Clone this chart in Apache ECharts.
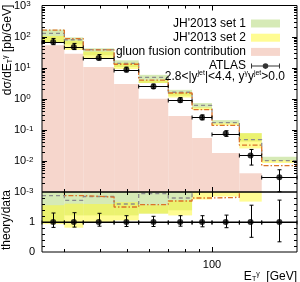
<!DOCTYPE html>
<html><head><meta charset="utf-8">
<script src="https://cdn.jsdelivr.net/npm/echarts@6/dist/echarts.min.js"></script>
<style>html,body{margin:0;padding:0;background:#fff}#c{width:300px;height:282px}</style>
</head><body><div id="c"></div>
<script>
// ---- data ----
const binEdges = [25, 30, 35, 45, 55, 70, 85, 100, 125, 150, 200];
const atlasValues = [67, 46, 20.5, 8.6, 2.5, 0.9, 0.25, 0.076, 0.015, 0.003];
const atlasErrUpRatio = [1.30, 1.31, 1.29, 1.21, 1.19, 1.21, 1.21, 1.23, 1.56, 1.73];
const atlasErrDownRatio = [0.82, 0.83, 0.86, 0.85, 0.85, 0.86, 0.84, 0.81, 0.49, 0.34];
const gluonFusion = [53, 28, 10.5, 3.0, 1.0, 0.28, 0.055, 0.018, 0.004, 0.0007];
// theory / data (lower panel)
const set1RatioLow  = [1.00, 1.22, 1.22, 1.22, 1.28, 1.39, 2.00, 2.10, 2.80, 3.35];
const set1RatioHigh = [2.50, 2.05, 2.05, 2.00, 2.35, 2.15, 2.90, 2.70, 5.20, 4.50];
const set2RatioLow  = [0.93, 0.81, 1.00, 1.05, 1.28, 1.22, 1.75, 1.85, 1.68, 2.85];
const set2RatioHigh = [1.56, 1.61, 1.60, 1.66, 1.56, 1.72, 2.10, 2.15, 5.20, 3.50];
const set1RatioCentral = [1.88, 1.72, 1.85, 1.60, 1.95, 1.80, 2.44, 2.25, 3.25, 3.40];
const set2RatioCentral = [2.40, 1.88, 1.83, 1.50, 1.58, 1.70, 1.80, 1.82, 2.15, 2.35];
// axis ticks
const yTopMajor = [1e-2, 1e-1, 1, 10, 100];
const yTopDecades = [-3, -2, -1, 0, 1, 2];
const yRatioMajor = [1];
const yRatioMinor = [0.2, 0.4, 0.6, 0.8, 1.2, 1.4, 1.6, 1.8];
const xMajor = [100];
const xMinor = [30, 40, 50, 60, 70, 80, 90];
const xTickLabels = [100];
const yRatioLabels = [0, 1];

const FONT = 'Liberation Sans, Arial, sans-serif';
const GREEN = '#d6eab6';
const YELLOW = 'rgba(255,250,40,0.5)';
const PINK = '#f6d6cc';
const GRAY = '#8c8c8c';
const ORANGE = '#dc7228';

const centers = binEdges.slice(0, -1).map((e, i) => Math.sqrt(e * binEdges[i + 1]));
const times = (arr) => arr.map((r, i) => r * atlasValues[i]);

function rectSeries(name, g, lows, highs, color, z) {
  return {
    type: 'custom', name, xAxisIndex: g, yAxisIndex: g, z, silent: true,
    itemStyle: { color },
    data: highs.map((h, i) => [binEdges[i], binEdges[i + 1], lows ? lows[i] : null, h]),
    renderItem(params, api) {
      const cs = params.coordSys;
      const a = api.coord([api.value(0), api.value(3)]);
      const b = api.coord([api.value(1), lows ? api.value(2) : 1]);
      let y2 = lows ? b[1] : cs.y + cs.height;
      let y1 = Math.max(a[1], cs.y);
      y2 = Math.min(y2, cs.y + cs.height);
      if (!(y2 > y1)) return null;
      return { type: 'rect', shape: { x: a[0], y: y1, width: b[0] - a[0], height: y2 - y1 }, style: { fill: color } };
    }
  };
}
function stepSeries(name, g, vals, color, dash, z) {
  const pts = vals.map((v, i) => [binEdges[i], v]);
  pts.push([binEdges[binEdges.length - 1], vals[vals.length - 1]]);
  return {
    type: 'line', name, xAxisIndex: g, yAxisIndex: g, z, step: 'end', symbol: 'none', silent: true,
    clip: true, data: pts, lineStyle: { color, width: 1.3, type: dash }
  };
}
function errSeries(g, vals, lo, hi, z) {
  return {
    type: 'custom', name: 'err' + g, xAxisIndex: g, yAxisIndex: g, z, silent: true,
    data: vals.map((v, i) => [centers[i], v, binEdges[i], binEdges[i + 1], lo[i], hi[i]]),
    renderItem(params, api) {
      const c = api.coord([api.value(0), api.value(1)]);
      const l = api.coord([api.value(2), api.value(1)]);
      const r = api.coord([api.value(3), api.value(1)]);
      const t = api.coord([api.value(0), api.value(5)]);
      const b = api.coord([api.value(0), api.value(4)]);
      const st = { stroke: '#000', lineWidth: 1 };
      const xr = Math.round(c[0]) + 0.5, yr = Math.round(c[1]) + 0.5;
      const ln = (x1, y1, x2, y2) => ({ type: 'line', shape: { x1, y1, x2, y2 }, style: st });
      return { type: 'group', children: [
        ln(l[0], yr, r[0], yr), ln(l[0], yr - 2, l[0], yr + 2), ln(r[0], yr - 2, r[0], yr + 2),
        ln(xr, t[1], xr, b[1]), ln(xr - 2, t[1], xr + 2, t[1]), ln(xr - 2, b[1], xr + 2, b[1])
      ] };
    }
  };
}
function tickSeries(g, yRef, yMaj, yMin) {
  const data = [];
  xMajor.forEach(v => data.push([v, yRef, 0, 5]));
  xMinor.forEach(v => data.push([v, yRef, 0, 3]));
  yMaj.forEach(v => data.push([100, v, 1, 5]));
  yMin.forEach(v => data.push([100, v, 1, 3]));
  return {
    type: 'custom', name: 'ticks' + g, xAxisIndex: g, yAxisIndex: g, z: 20, silent: true, data,
    renderItem(params, api) {
      const cs = params.coordSys;
      const p = api.coord([api.value(0), api.value(1)]);
      const kind = api.value(2), len = api.value(3);
      const st = { stroke: '#000', lineWidth: 1 };
      if (kind === 0) {
        const x = Math.round(p[0]) + 0.5, yb = cs.y + cs.height, yt = cs.y;
        return { type: 'group', children: [
          { type: 'line', shape: { x1: x, y1: yb, x2: x, y2: yb - len }, style: st },
          { type: 'line', shape: { x1: x, y1: yt, x2: x, y2: yt + len }, style: st }] };
      }
      const y = Math.round(p[1]) + 0.5, xl = cs.x, xr = cs.x + cs.width;
      return { type: 'group', children: [
        { type: 'line', shape: { x1: xl, y1: y, x2: xl + len, y2: y }, style: st },
        { type: 'line', shape: { x1: xr, y1: y, x2: xr - len, y2: y }, style: st }] };
    }
  };
}
const yTopMinor = [];
yTopDecades.forEach(e => { for (let k = 2; k <= 9; k++) yTopMinor.push(k * Math.pow(10, e)); });

const chart = echarts.init(document.getElementById('c'), null, { renderer: 'canvas' });
const ones = atlasValues.map(() => 1);
chart.setOption({
  animation: false,
  textStyle: { fontFamily: FONT },
  grid: [
    { left: 42, right: 3, top: 5, height: 187, show: true, borderColor: '#000', borderWidth: 1, z: 30, backgroundColor: 'transparent' },
    { left: 42, right: 3, top: 192, height: 60, show: true, borderColor: '#000', borderWidth: 1, z: 30, backgroundColor: 'transparent' }
  ],
  xAxis: [
    { gridIndex: 0, type: 'log', logBase: 10, min: 25, max: 200, axisLine: { show: false }, axisTick: { show: false }, axisLabel: { show: false }, splitLine: { show: false } },
    { gridIndex: 1, type: 'log', logBase: 10, min: 25, max: 200, axisLine: { show: false }, axisTick: { show: false }, splitLine: { show: false },
      axisLabel: { margin: 7, fontSize: 11, color: '#000', fontFamily: FONT, showMinLabel: true, showMaxLabel: true,
        formatter: v => xTickLabels.some(t => Math.abs(t - v) < 1e-6) ? String(Math.round(v)) : '' } }
  ],
  yAxis: [
    { gridIndex: 0, type: 'log', logBase: 10, min: 1e-3, max: 1e3, axisLine: { show: false }, axisTick: { show: false }, splitLine: { show: false },
      axisLabel: { align: 'left', margin: 28, color: '#000', fontFamily: FONT,
        formatter: v => { const e = Math.round(Math.log10(v)); return '{b|10}{s|' + e + '}'; },
        rich: { b: { fontSize: 11, fontFamily: FONT, color: '#000' }, s: { fontSize: 8, fontFamily: FONT, color: '#000', verticalAlign: 'top' } } } },
    { gridIndex: 1, type: 'value', min: 0, max: 2, interval: 1, axisLine: { show: false }, axisTick: { show: false }, splitLine: { show: false },
      axisLabel: { margin: 7, fontSize: 11, color: '#000', fontFamily: FONT,
        formatter: v => yRatioLabels.includes(v) ? String(v) : '' } }
  ],
  legend: {
    orient: 'vertical', right: 15, top: 12, align: 'right', itemWidth: 29, itemHeight: 8, itemGap: 1.2,
    selectedMode: false, textStyle: { fontSize: 12, lineHeight: 13, color: '#000', fontFamily: FONT },
    data: [
      { name: "JH'2013 set 1", icon: 'rect' },
      { name: "JH'2013 set 2", icon: 'rect' },
      { name: 'gluon fusion contribution', icon: 'rect' },
      { name: 'ATLAS', icon: 'path://M0,0h0.01v0.01h-0.01z M0,8h0.01v0.01h-0.01z M0,3.5h29v1h-29z M0,1.5h1v5h-1z M28,1.5h1v5h-1z M14.5,1.2a2.8,2.8 0 1,1 0,5.6a2.8,2.8 0 1,1 0,-5.6z' }
    ]
  },
  title: {
    text: '2.8<|y{s|jet}|<4.4, y{s|γ}y{s|jet}>0.0', right: 15, top: 70, padding: 0,
    textStyle: { fontSize: 12, fontWeight: 'normal', color: '#000', fontFamily: FONT, lineHeight: 13,
      rich: { s: { fontSize: 7, fontFamily: FONT, color: '#000', verticalAlign: 'top' } } }
  },
  graphic: [
    { type: 'text', x: 8, y: 50, rotation: Math.PI / 2, style: {
      text: 'dσ/dE{sub|T}{sup|γ} [pb/GeV]', fontSize: 12, fontFamily: FONT, fill: '#000', align: 'center', verticalAlign: 'middle',
      rich: { sub: { fontSize: 7, fontFamily: FONT, verticalAlign: 'bottom' }, sup: { fontSize: 7, fontFamily: FONT, verticalAlign: 'top' } } } },
    { type: 'text', x: 7, y: 220, rotation: Math.PI / 2, style: {
      text: 'theory/data', fontSize: 12, fontFamily: FONT, fill: '#000', align: 'center', verticalAlign: 'middle' } },
    { type: 'text', x: 297, y: 277, style: {
      text: 'E{sub|T}{sup|γ}  [GeV]', fontSize: 12, fontFamily: FONT, fill: '#000', align: 'right', verticalAlign: 'middle',
      rich: { sub: { fontSize: 7, fontFamily: FONT, verticalAlign: 'bottom' }, sup: { fontSize: 7, fontFamily: FONT, verticalAlign: 'top' } } } }
  ],
  series: [
    rectSeries('gluon fusion contribution', 0, null, gluonFusion, PINK, 1),
    rectSeries("JH'2013 set 1", 0, times(set1RatioLow), times(set1RatioHigh), GREEN, 2),
    rectSeries("JH'2013 set 2", 0, times(set2RatioLow), times(set2RatioHigh), YELLOW, 3),
    stepSeries('set1 central', 0, times(set1RatioCentral), GRAY, [4, 3], 4),
    stepSeries('set2 central', 0, times(set2RatioCentral), ORANGE, [5, 2, 1.5, 2], 5),
    errSeries(0, atlasValues, times(atlasErrDownRatio), times(atlasErrUpRatio), 6),
    { type: 'scatter', name: 'ATLAS', xAxisIndex: 0, yAxisIndex: 0, z: 7, symbol: 'circle', symbolSize: 6, silent: true,
      itemStyle: { color: '#000' }, data: centers.map((c, i) => [c, atlasValues[i]]) },
    tickSeries(0, 1, yTopMajor, yTopMinor),

    rectSeries('set1 ratio', 1, set1RatioLow, set1RatioHigh, GREEN, 2),
    rectSeries('set2 ratio', 1, set2RatioLow, set2RatioHigh, YELLOW, 3),
    stepSeries('set1 central ratio', 1, set1RatioCentral, GRAY, [4, 3], 4),
    stepSeries('set2 central ratio', 1, set2RatioCentral, ORANGE, [5, 2, 1.5, 2], 5),
    { type: 'line', name: 'unity', xAxisIndex: 1, yAxisIndex: 1, z: 6, symbol: 'none', silent: true,
      data: [[binEdges[0], 1], [binEdges[binEdges.length - 1], 1]], lineStyle: { color: '#000', width: 1 } },
    errSeries(1, ones, atlasErrDownRatio, atlasErrUpRatio, 6),
    { type: 'scatter', name: 'ATLAS ratio', xAxisIndex: 1, yAxisIndex: 1, z: 7, symbol: 'circle', symbolSize: 6, silent: true,
      itemStyle: { color: '#000' }, data: centers.map(c => [c, 1]) },
    tickSeries(1, 1, yRatioMajor, yRatioMinor)
  ]
});
</script></body></html>
